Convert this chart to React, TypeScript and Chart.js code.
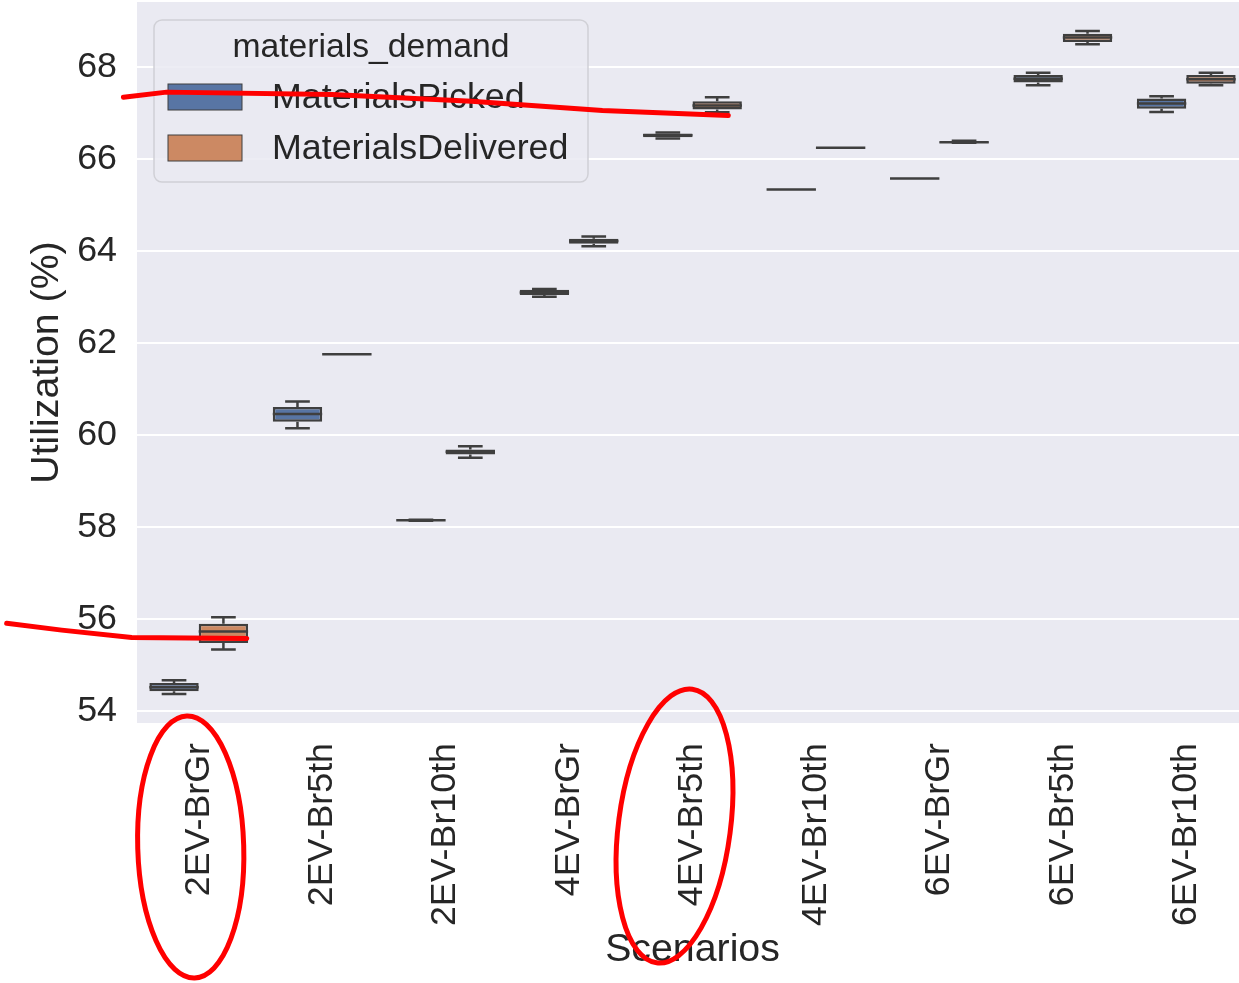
import React, { useEffect, useRef } from 'react';
import { Chart, registerables } from 'chart.js';
Chart.register(...registerables);

const categories = ['2EV-BrGr', '2EV-Br5th', '2EV-Br10th', '4EV-BrGr', '4EV-Br5th', '4EV-Br10th', '6EV-BrGr', '6EV-Br5th', '6EV-Br10th'];
const seriesNames = ['MaterialsPicked', 'MaterialsDelivered'];
const yTicks = [54, 56, 58, 60, 62, 64, 66, 68];

const pickedMin = [54.37, 60.15, 58.14, 63.01, 66.45, 65.34, 65.58, 67.61, 67.03];
const pickedQ1 = [54.43, 60.29, 58.15, 63.05, 66.48, 65.34, 65.58, 67.67, 67.10];
const pickedMed = [54.52, 60.46, 58.15, 63.10, 66.52, 65.34, 65.58, 67.75, 67.21];
const pickedQ3 = [54.61, 60.61, 58.15, 63.16, 66.56, 65.34, 65.58, 67.83, 67.32];
const pickedMax = [54.67, 60.73, 58.16, 63.18, 66.58, 65.34, 65.58, 67.88, 67.37];

const deliveredMin = [55.34, 61.76, 59.51, 64.11, 67.02, 66.25, 66.36, 68.50, 67.61];
const deliveredQ1 = [55.48, 61.76, 59.58, 64.16, 67.08, 66.25, 66.36, 68.55, 67.64];
const deliveredMed = [55.73, 61.76, 59.64, 64.22, 67.17, 66.25, 66.37, 68.65, 67.74];
const deliveredQ3 = [55.90, 61.76, 59.69, 64.27, 67.26, 66.25, 66.38, 68.73, 67.83];
const deliveredMax = [56.04, 61.76, 59.76, 64.32, 67.35, 66.25, 66.40, 68.79, 67.88];

// hand-drawn red highlight strokes, in (category index, value) space
const highlightUpper = [[-0.61, 67.35], [-0.26, 67.46], [1.08, 67.41], [2.21, 67.26], [3.27, 67.06], [4.29, 66.95]];
const highlightLower = [[-1.556, 55.91], [-1.11, 55.76], [-0.543, 55.60], [0.389, 55.58]];
const circledCategories = [0, 4];

const FONT = '"Liberation Sans", Arial, Helvetica, sans-serif';
const TEXT = '#262626';
const EDGE = '#3f3f3f';
const COLORS = ['#5875a4', '#cc8963'];

export default function App() {
  const ref = useRef<HTMLCanvasElement>(null);

  useEffect(() => {
    const stats = [
      { min: pickedMin, q1: pickedQ1, med: pickedMed, q3: pickedQ3, max: pickedMax },
      { min: deliveredMin, q1: deliveredQ1, med: deliveredMed, q3: deliveredQ3, max: deliveredMax },
    ];

    const boxPlugin = {
      id: 'boxplot',
      beforeDraw(chart: any) {
        const { ctx, chartArea: a } = chart;
        ctx.save();
        ctx.fillStyle = '#eaeaf2';
        ctx.fillRect(a.left, a.top, a.right - a.left, a.bottom - a.top);
        ctx.restore();
      },
      afterDatasetsDraw(chart: any) {
        const { ctx } = chart;
        const y = chart.scales.y;
        ctx.save();
        ctx.strokeStyle = EDGE;
        ctx.lineWidth = 2.5;
        ctx.lineCap = 'butt';
        stats.forEach((s, d) => {
          const meta = chart.getDatasetMeta(d);
          meta.data.forEach((el: any, i: number) => {
            const x = el.x;
            const w = el.width;
            const yMin = y.getPixelForValue(s.min[i]);
            const yMax = y.getPixelForValue(s.max[i]);
            const yQ1 = y.getPixelForValue(s.q1[i]);
            const yQ3 = y.getPixelForValue(s.q3[i]);
            const yMed = y.getPixelForValue(s.med[i]);
            ctx.beginPath();
            ctx.moveTo(x, yQ3); ctx.lineTo(x, yMax);
            ctx.moveTo(x, yQ1); ctx.lineTo(x, yMin);
            ctx.moveTo(x - w / 4, yMax); ctx.lineTo(x + w / 4, yMax);
            ctx.moveTo(x - w / 4, yMin); ctx.lineTo(x + w / 4, yMin);
            ctx.moveTo(x - w / 2, yMed); ctx.lineTo(x + w / 2, yMed);
            ctx.stroke();
          });
        });
        ctx.restore();
      },
      afterDraw(chart: any) {
        const { ctx, chartArea: a } = chart;
        const xs = chart.scales.x;
        const ys = chart.scales.y;
        // legend
        const lx = a.left + 17, ly = a.top + 18, lw = 434, lh = 162;
        ctx.save();
        ctx.beginPath();
        ctx.roundRect(lx, ly, lw, lh, 8);
        ctx.fillStyle = 'rgba(234,234,242,0.85)';
        ctx.fill();
        ctx.strokeStyle = '#d0d0d6';
        ctx.lineWidth = 1.5;
        ctx.stroke();
        ctx.fillStyle = TEXT;
        ctx.textBaseline = 'middle';
        ctx.textAlign = 'center';
        ctx.font = `33.7px ${FONT}`;
        ctx.fillText('materials_demand', lx + lw / 2, ly + 28);
        ctx.textAlign = 'left';
        ctx.font = `35.8px ${FONT}`;
        seriesNames.forEach((name, k) => {
          const py = ly + 64 + k * 51;
          ctx.fillStyle = COLORS[k];
          ctx.fillRect(lx + 14, py, 74, 26);
          ctx.strokeStyle = EDGE;
          ctx.lineWidth = 1;
          ctx.strokeRect(lx + 14, py, 74, 26);
          ctx.fillStyle = TEXT;
          ctx.fillText(name, lx + 118, py + 14);
        });
        // red hand-drawn highlights
        ctx.strokeStyle = '#ff0000';
        ctx.lineWidth = 5;
        ctx.lineCap = 'round';
        ctx.lineJoin = 'round';
        [highlightUpper, highlightLower].forEach((pts) => {
          ctx.beginPath();
          pts.forEach(([ix, v], k) => {
            const px = xs.getPixelForValue(ix);
            const py = ys.getPixelForValue(v);
            if (k === 0) ctx.moveTo(px, py); else ctx.lineTo(px, py);
          });
          ctx.stroke();
        });
        const ellipseShape = [
          { dx: -8, dy: 124, rx: 53, ry: 131, rot: -0.03 },
          { dx: -18, dy: 103, rx: 56, ry: 138, rot: 0.13 },
        ];
        circledCategories.forEach((ci, k) => {
          const e = ellipseShape[k];
          const cx = xs.getPixelForValue(ci) + e.dx;
          const cy = a.bottom + e.dy;
          ctx.beginPath();
          ctx.ellipse(cx, cy, e.rx, e.ry, e.rot, 0, Math.PI * 2);
          ctx.stroke();
        });
        ctx.restore();
      },
    };

    const chart = new Chart(ref.current as HTMLCanvasElement, {
      type: 'bar',
      data: {
        labels: categories,
        datasets: stats.map((s, d) => ({
          label: seriesNames[d],
          data: categories.map((_, i) => [s.q1[i], s.q3[i]]),
          backgroundColor: COLORS[d],
          borderColor: EDGE,
          borderWidth: 2.5,
          borderSkipped: false,
          categoryPercentage: 0.8,
          barPercentage: 1.0,
        })) as any,
      },
      options: {
        animation: false,
        responsive: true,
        maintainAspectRatio: false,
        layout: { padding: { top: 2, left: 0, right: 0, bottom: 0 } },
        plugins: { legend: { display: false }, tooltip: { enabled: false } },
        scales: {
          x: {
            grid: { display: false },
            border: { display: false },
            ticks: {
              autoSkip: false,
              minRotation: 90,
              maxRotation: 90,
              padding: 12,
              color: TEXT,
              font: { family: FONT, size: 35.8 },
            },
            title: {
              display: true,
              text: 'Scenarios',
              color: TEXT,
              font: { family: FONT, size: 39.3 },
              padding: { top: 0, bottom: 9 },
            },
            afterFit: (s: any) => {
              s.height = 260;
              s.paddingLeft = 0; s.paddingRight = 0; s.paddingTop = 0; s.paddingBottom = 0;
            },
          },
          y: {
            min: 53.74,
            max: 69.42,
            afterBuildTicks: (s: any) => { s.ticks = yTicks.map((v) => ({ value: v })); },
            grid: { color: '#ffffff', lineWidth: 2, drawTicks: false },
            border: { display: false },
            ticks: {
              padding: 20,
              color: TEXT,
              font: { family: FONT, size: 35.8 },
              callback: (v: any) => String(v),
            },
            title: {
              display: true,
              text: 'Utilization (%)',
              color: TEXT,
              font: { family: FONT, size: 39.3 },
              padding: { top: 24, bottom: 0 },
            },
            afterFit: (s: any) => {
              s.width = 137;
              s.paddingLeft = 0; s.paddingRight = 0; s.paddingTop = 0; s.paddingBottom = 0;
            },
          },
        },
      } as any,
      plugins: [boxPlugin],
    });
    return () => chart.destroy();
  }, []);

  return (
    <div style={{ position: 'fixed', left: 0, top: 0, width: 1239, height: 983, overflow: 'hidden', background: '#ffffff' }}>
      <div style={{ position: 'relative', width: 1248, height: 983 }}>
        <canvas ref={ref} />
      </div>
    </div>
  );
}
